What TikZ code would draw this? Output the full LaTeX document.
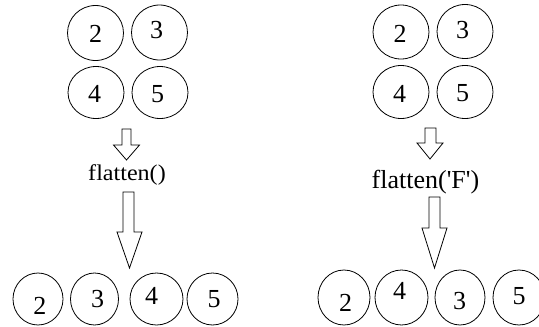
\documentclass[tikz,border=0pt]{standalone}
\usepackage{fontspec}
\setmainfont{Liberation Serif}
\usetikzlibrary{shapes.geometric}
\begin{document}
\begin{tikzpicture}[x=1pt,y=-1pt,
  cell/.style={draw=black,line width=0.8pt,ellipse,inner sep=0pt,minimum width=#1},
  cell/.default=56pt,
  digit/.style={font=\fontsize{26}{26}\selectfont,inner sep=0pt},
  blockarrow/.style={draw=black,line width=0.8pt,fill=white,line join=miter},
  optext/.style={anchor=base,inner sep=0pt}]
\useasboundingbox (0,0) rectangle (539,327);
% left panel: 2x2
\node[cell,minimum height=55pt,label={[digit,shift={(0,1)}]center:2}] (l2) at (95.5,33) {};
\node[cell,minimum height=55pt,label={[digit,shift={(-3,-2)}]center:3}] (l3) at (159.5,32.5) {};
\node[cell,minimum height=52pt,label={[digit,shift={(-1.5,1.5)}]center:4}] (l4) at (96,92.5) {};
\node[cell,minimum height=52pt,label={[digit,shift={(-2.5,2)}]center:5}] (l5) at (160,92.5) {};
% right panel: 2x2
\node[cell,minimum height=54pt,label={[digit,shift={(-1,1.5)}]center:2}] (r2) at (401,32) {};
\node[cell,minimum height=54pt,label={[digit,shift={(-2.5,-1.5)}]center:3}] (r3) at (465,31.5) {};
\node[cell,minimum height=53pt,label={[digit,shift={(-1.5,1.5)}]center:4}] (r4) at (401,92) {};
\node[cell,minimum height=53pt,label={[digit,shift={(-2.5,1.5)}]center:5}] (r5) at (465,92) {};
% left labels and arrows
\path[blockarrow] (122,129) -- (131,129) -- (131,145) -- (139.5,145) -- (126.5,160)
  -- (113.5,145) -- (122,145) -- cycle;
\node[optext,font=\fontsize{22.5}{22.5}\selectfont,xscale=1.07] (lt) at (127,180) {flatten()};
\path[blockarrow] (123,192) -- (134,192) -- (134,232) -- (142,232) -- (129.5,268)
  -- (117,232) -- (123,232) -- cycle;
% right labels and arrows
\path[blockarrow] (425,128) -- (436,128) -- (436,143) -- (443,143) -- (430,159)
  -- (417,143) -- (425,143) -- cycle;
\node[optext,font=\fontsize{26}{26}\selectfont] (rt) at (425.5,188) {flatten(\textquotesingle F\textquotesingle)};
\path[blockarrow] (429,197) -- (440,197) -- (440,228) -- (447,228) -- (434.5,268)
  -- (422,228) -- (429,228) -- cycle;
% left bottom row
\node[cell=50pt,minimum height=52pt,label={[digit,shift={(2,7)}]center:2}] (b2) at (38,299) {};
\node[cell=48pt,minimum height=52pt,label={[digit,shift={(3,0)}]center:3}] (b3) at (94.5,299) {};
\node[cell=53pt,minimum height=52pt,label={[digit,shift={(-5,-3)}]center:4}] (b4) at (156.5,299) {};
\node[cell=51pt,minimum height=52pt,label={[digit,shift={(1.5,0)}]center:5}] (b5) at (212.5,299) {};
% right bottom row
\node[cell=52pt,minimum height=55pt,label={[digit,shift={(1.5,5)}]center:2}] (c2) at (344,297.5) {};
\node[cell=53pt,minimum height=55pt,label={[digit,shift={(-2,-6.5)}]center:4}] (c4) at (401.5,297.5) {};
\node[cell=50pt,minimum height=55pt,label={[digit,shift={(-0.5,3.5)}]center:3}] (c3) at (460,297.5) {};
\node[cell=52pt,minimum height=55pt,label={[digit,shift={(0,-1.5)}]center:5}] (c5) at (519,297.5) {};
\end{tikzpicture}
\end{document}
